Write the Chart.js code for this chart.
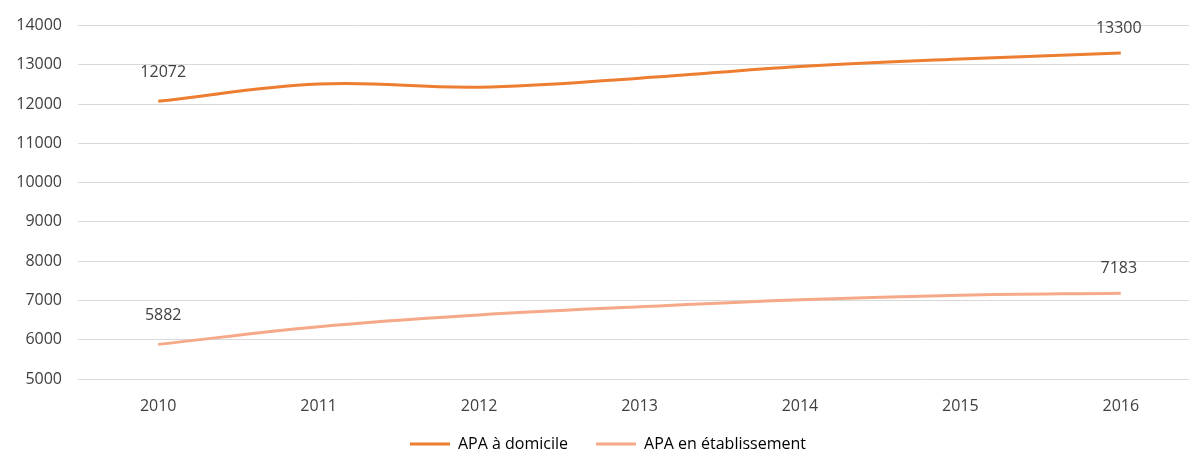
<!DOCTYPE html>
<html lang="fr">
<head>
<meta charset="UTF-8">
<title>APA 2010-2016</title>
<script src="https://cdn.jsdelivr.net/npm/chart.js"></script>
<style>
  html, body { margin: 0; padding: 0; background: #fff; overflow: hidden; }
  #wrap { position: relative; width: 1201px; height: 473px; }
</style>
</head>
<body>
<div id="wrap"><canvas id="apaChart"></canvas></div>
<script>
const years = ['2010', '2011', '2012', '2013', '2014', '2015', '2016'];
const domicile = [12072, 12510, 12430, 12660, 12960, 13150, 13300];
const etablissement = [5882, 6330, 6630, 6840, 7020, 7135, 7183];
const yTicks = [5000, 6000, 7000, 8000, 9000, 10000, 11000, 12000, 13000, 14000];

const textColor = '#404040';
const fontFamily = '"Open Sans", "Noto Sans", sans-serif';

// value labels only on the first and last point of each line
const endLabels = {
  id: 'endLabels',
  afterDatasetsDraw(chart) {
    const ctx = chart.ctx;
    ctx.save();
    ctx.font = '16px ' + fontFamily;
    ctx.fillStyle = textColor;
    ctx.textAlign = 'center';
    ctx.textBaseline = 'middle';
    chart.data.datasets.forEach((ds, i) => {
      const pts = chart.getDatasetMeta(i).data;
      [0, pts.length - 1].forEach(k => {
        const p = pts[k];
        ctx.fillText(String(ds.data[k]), p.x + (k === 0 ? 5 : -2), p.y - (k === 0 ? 29 : 25));
      });
    });
    ctx.restore();
  }
};

// pull the legend row a bit closer to the axis labels
const legendLift = {
  id: 'legendLift',
  afterLayout(chart) {
    chart.legend.top -= 11;
    chart.legend.bottom -= 11;
  }
};

new Chart(document.getElementById('apaChart'), {
  type: 'line',
  data: {
    labels: years,
    datasets: [{
      label: 'APA à domicile',
      data: domicile,
      borderColor: '#ED7D31',
      backgroundColor: '#ED7D31',
      borderWidth: 3,
      pointRadius: 0,
      tension: 0.4
    }, {
      label: 'APA en établissement',
      data: etablissement,
      borderColor: '#F6A988',
      backgroundColor: '#F6A988',
      borderWidth: 3,
      pointRadius: 0,
      tension: 0.4
    }]
  },
  options: {
    responsive: true,
    maintainAspectRatio: false,
    animation: false,
    layout: { padding: { left: 15, top: 2, right: 0, bottom: 0 } },
    scales: {
      x: {
        offset: true,
        grid: { display: false, drawTicks: false },
        border: { display: false },
        ticks: { color: textColor, font: { size: 16, family: fontFamily }, padding: 18 },
        afterFit(axis) { axis.height = 40; }
      },
      y: {
        min: 5000,
        max: 14000,
        afterBuildTicks(axis) { axis.ticks = yTicks.map(v => ({ value: v })); },
        afterFit(axis) { axis.width = 63; },
        grid: { color: '#d9d9d9', lineWidth: 1, drawTicks: false },
        border: { display: false },
        ticks: {
          color: textColor,
          font: { size: 16, family: fontFamily },
          padding: 16,
          callback: v => String(v)
        }
      }
    },
    plugins: {
      tooltip: { enabled: false },
      legend: {
        position: 'bottom',
        labels: {
          color: textColor,
          font: { size: 16, family: fontFamily },
          boxWidth: 40,
          boxHeight: 3,
          padding: 28,
          generateLabels(chart) {
            return chart.data.datasets.map((ds, i) => ({
              text: ds.label,
              fillStyle: ds.borderColor,
              strokeStyle: ds.borderColor,
              lineWidth: 0,
              datasetIndex: i
            }));
          }
        }
      }
    }
  },
  plugins: [endLabels, legendLift]
});
</script>
</body>
</html>
